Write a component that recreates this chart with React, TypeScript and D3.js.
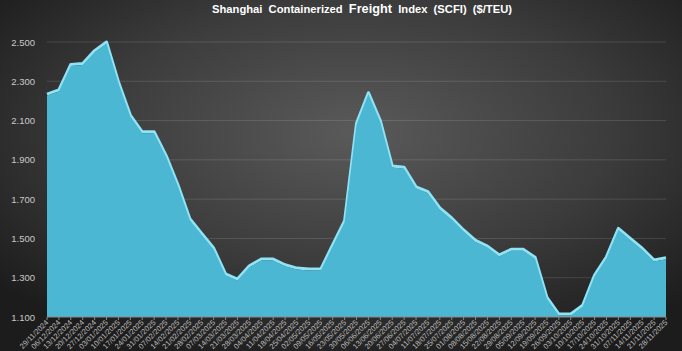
import * as d3 from "d3";
import React, { useEffect } from "react";

// weekly SCFI readings, $/TEU
const DATES = [
  "29/11/2024", "06/12/2024", "13/12/2024", "20/12/2024", "27/12/2024",
  "03/01/2025", "10/01/2025", "17/01/2025", "24/01/2025", "31/01/2025",
  "07/02/2025", "14/02/2025", "21/02/2025", "28/02/2025",
  "07/03/2025", "14/03/2025", "21/03/2025", "28/03/2025",
  "04/04/2025", "11/04/2025", "18/04/2025", "25/04/2025",
  "02/05/2025", "09/05/2025", "16/05/2025", "23/05/2025", "30/05/2025",
  "06/06/2025", "13/06/2025", "20/06/2025", "27/06/2025",
  "04/07/2025", "11/07/2025", "18/07/2025", "25/07/2025",
  "01/08/2025", "08/08/2025", "15/08/2025", "22/08/2025", "29/08/2025",
  "05/09/2025", "12/09/2025", "19/09/2025", "26/09/2025",
  "03/10/2025", "10/10/2025", "17/10/2025", "24/10/2025", "31/10/2025",
  "07/11/2025", "14/11/2025", "21/11/2025", "28/11/2025",
];

const VALUES = [
  2235, 2256, 2386, 2391, 2456,
  2500, 2298, 2128, 2043, 2043,
  1923, 1773, 1600, 1525,
  1451, 1320, 1293, 1361,
  1395, 1395, 1366, 1349,
  1344, 1344, 1468, 1590, 2086,
  2242, 2100, 1869, 1862,
  1763, 1738, 1655, 1604,
  1543, 1490, 1461, 1416, 1445,
  1445, 1404, 1200, 1115,
  1115, 1160, 1314, 1407, 1551,
  1500, 1450, 1390, 1402,
];

const Y_TICKS = [1100, 1300, 1500, 1700, 1900, 2100, 2300, 2500];

const W = 682;
const H = 351;
const M = { left: 47, right: 16, top: 42, bottom: 34 };

const fmt = (v: number) => d3.format(",")(v).replace(/,/g, ".");

export default function App() {
  useEffect(() => {
    document.body.style.margin = "0";
  }, []);

  const x = d3.scalePoint<number>()
    .domain(DATES.map((_, i) => i))
    .range([M.left, W - M.right]);

  const y = d3.scaleLinear()
    .domain([1100, 2500])
    .range([H - M.bottom, M.top]);

  const base = y(1100);

  const area = d3.area<number>()
    .x((_, i) => x(i)!)
    .y0(base)
    .y1(d => y(d));

  const line = d3.line<number>()
    .x((_, i) => x(i)!)
    .y(d => y(d));

  return (
    <svg width={W} height={H} style={{ display: "block" }}>
      <defs>
        <radialGradient id="bg" cx="52%" cy="38%" r="68%">
          <stop offset="0%" stopColor="#5a5a5a" />
          <stop offset="55%" stopColor="#3c3c3c" />
          <stop offset="100%" stopColor="#1c1c1c" />
        </radialGradient>
        <clipPath id="plot">
          <rect x={0} y={0} width={W} height={base} />
        </clipPath>
      </defs>
      <rect width={W} height={H} fill="url(#bg)" />

      <text
        x={362}
        y={13}
        textAnchor="middle"
        fill="#ffffff"
        fontFamily="Liberation Sans, Arial, sans-serif"
        fontWeight="bold"
        fontSize={11}
        wordSpacing={3}
        textLength={300}
        lengthAdjust="spacingAndGlyphs"
      >
        Shanghai Containerized <tspan fontSize={12.5}>Freight</tspan> Index (SCFI) ($/TEU)
      </text>

      {/* grid + y labels */}
      {Y_TICKS.map(t => (
        <g key={t}>
          {t > 1100 && (
            <line x1={M.left} x2={W - M.right} y1={y(t)} y2={y(t)}
              stroke="rgba(255,255,255,0.13)" strokeWidth={1} />
          )}
          <text x={35} y={y(t) + 3.5} textAnchor="end" fill="#c9c9c9"
            fontFamily="Liberation Sans, Arial, sans-serif" fontSize={9.5}>
            {fmt(t)}
          </text>
        </g>
      ))}

      {/* area with light bevel on top */}
      <g clipPath="url(#plot)">
        <path d={line(VALUES)!} fill="none" stroke="#8fe3f5" strokeWidth={3} strokeLinejoin="round" />
        <path d={area(VALUES)!} fill="#4bb7d2" transform="translate(0,1.5)" />
      </g>

      {/* x axis */}
      <line x1={M.left} x2={W - M.right} y1={base} y2={base} stroke="#8a8a8a" strokeWidth={1} />
      {DATES.map((d, i) => (
        <g key={d}>
          <line x1={x(i)} x2={x(i)} y1={base} y2={base + 3} stroke="#8a8a8a" strokeWidth={1} />
          <text
            transform={`translate(${x(i)! + 2},${base + 6}) rotate(-45)`}
            textAnchor="end"
            fill="#bdbdbd"
            fontFamily="Liberation Sans, Arial, sans-serif"
            fontSize={7.5}
          >
            {d}
          </text>
        </g>
      ))}
    </svg>
  );
}
